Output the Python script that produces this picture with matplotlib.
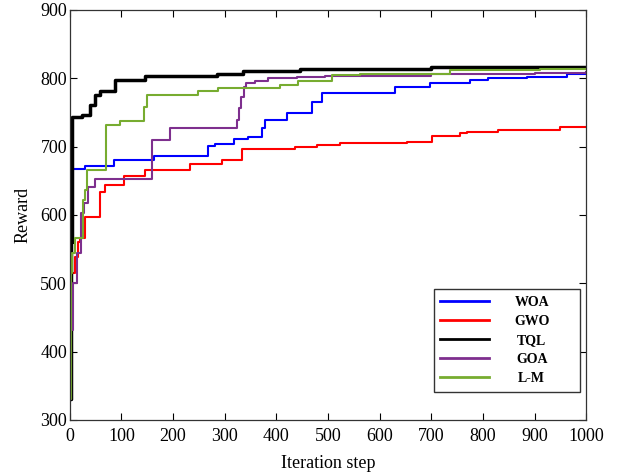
import matplotlib
matplotlib.use("Agg")
import matplotlib.pyplot as plt

# ---- data (step points) ----
woa_x = [0, 2, 4, 29, 85, 163, 268, 281, 318, 345, 372, 378, 421, 469, 488, 630, 698, 775, 810, 885, 963, 1000]
woa_y = [510, 603, 667, 672, 680, 686, 701, 704, 711, 714, 727, 739, 749, 765, 778, 787, 793, 798, 800, 802, 807, 807]

gwo_x = [0, 3, 10, 15, 20, 29, 58, 68, 105, 145, 232, 294, 333, 436, 478, 523, 653, 701, 756, 769, 829, 950, 1000]
gwo_y = [505, 515, 538, 560, 566, 597, 634, 644, 657, 666, 675, 680, 697, 700, 702, 705, 707, 716, 720, 722, 725, 729, 729]

tql_x = [0, 2, 4, 23, 39, 48, 58, 87, 145, 285, 336, 446, 700, 1000]
tql_y = [330, 560, 743, 746, 761, 776, 782, 798, 803, 806, 811, 814, 816, 817]

goa_x = [0, 2, 7, 13, 21, 27, 36, 48, 159, 194, 323, 327, 331, 337, 341, 359, 384, 440, 494, 700, 900, 1000]
goa_y = [330, 432, 500, 544, 603, 617, 641, 652, 709, 727, 739, 757, 773, 787, 793, 796, 800, 802, 803, 806, 808, 809]

lm_x = [0, 2, 5, 10, 25, 29, 33, 70, 97, 143, 150, 248, 287, 407, 442, 507, 562, 736, 911, 1000]
lm_y = [330, 515, 545, 566, 622, 637, 666, 732, 737, 758, 776, 782, 786, 790, 796, 805, 807, 812, 813, 814]

series = [
    ("WOA", woa_x, woa_y, "#0000ff", 1.5),
    ("GWO", gwo_x, gwo_y, "#ff0000", 1.5),
    ("TQL", tql_x, tql_y, "#000000", 2.5),
    ("GOA", goa_x, goa_y, "#7e2f8e", 1.5),
    ("L-M", lm_x, lm_y, "#77ac30", 1.5),
]

xticks = [0, 100, 200, 300, 400, 500, 600, 700, 800, 900, 1000]
yticks = [300, 400, 500, 600, 700, 800, 900]

plt.rcParams['font.family'] = ['Liberation Serif', 'DejaVu Serif']

fig = plt.figure(figsize=(6.29, 4.75), dpi=100)
ax = fig.add_axes([0.111, 0.1158, 0.821, 0.8632])

for name, xs, ys, c, lw in series:
    ax.plot(xs, ys, drawstyle='steps-post', color=c, lw=lw, label=name)

ax.set_xlim(0, 1000)
ax.set_ylim(300, 900)
ax.set_xticks(xticks)
ax.set_yticks(yticks)
ax.tick_params(direction='in', top=True, right=True, length=5, width=0.8,
               labelsize=13)
ax.tick_params(axis='x', pad=6)
ax.tick_params(axis='y', pad=2)
for s in ax.spines.values():
    s.set_linewidth(0.9)
    s.set_color('#333333')

ax.set_xlabel("Iteration step", fontsize=13, labelpad=7)
ax.set_ylabel("Reward", fontsize=13, labelpad=6)

leg = ax.legend(loc='lower right', bbox_to_anchor=(0.988, 0.068),
                fancybox=False, edgecolor='#333333', framealpha=1,
                prop={'weight': 'bold', 'size': 10},
                handlelength=3.5, handletextpad=3.5, labelspacing=0.44,
                borderpad=0.5, borderaxespad=0)
leg.get_frame().set_linewidth(1.0)
for line in leg.get_lines():
    line.set_linewidth(2.0)

# centre the legend labels in their column, as in the reference
fig.canvas.draw()
r = fig.canvas.get_renderer()
fb = leg.get_frame().get_window_extent(r)
target = fb.x0 + 0.67 * fb.width
for t in leg.get_texts():
    bb = t.get_window_extent(r)
    cx = 0.5 * (bb.x0 + bb.x1)
    x, y = t.get_position()
    t.set_position((x + target - cx, y))

fig.savefig("out.png", dpi=100)
